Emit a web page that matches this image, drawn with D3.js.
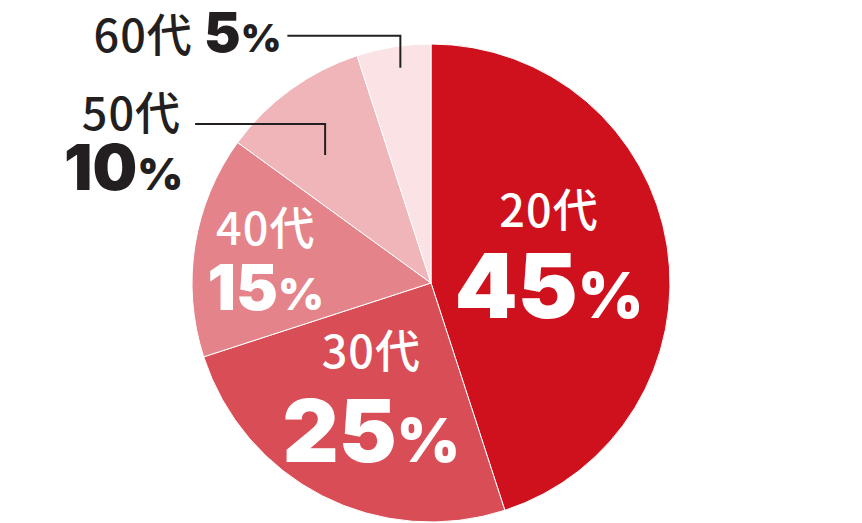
<!DOCTYPE html>
<html>
<head>
<meta charset="utf-8">
<script src="https://cdn.jsdelivr.net/npm/d3@7"></script>
<style>
  html, body { margin: 0; padding: 0; background: #fff; }
  .cat { font-family: "Noto Sans CJK JP", "Noto Sans", sans-serif; font-weight: 500; letter-spacing: 1px; }
  .num { font-family: Inter, Roboto, "Liberation Sans", sans-serif; font-weight: 900; }
</style>
</head>
<body>
<div id="pie_container"></div>
<script>
/* DATA */
const categories = ['20代', '30代', '40代', '50代', '60代'];
const shares = [45, 25, 15, 10, 5];

/* CONSTANTS AND GLOBALS */
const width = 862;
const height = 523;
const cx = 431;
const cy = 283;
const radius = 239;
const colors = ['#cf111e', '#d94d57', '#e4838a', '#f0b5b9', '#fbe3e5'];
const ink = '#231f20';
const catSize = 45;

const data = categories.map((c, i) => ({ cat: c, share: shares[i] }));

const svg = d3.select('#pie_container')
  .append('svg')
  .attr('width', width)
  .attr('height', height);

const g = svg.append('g')
  .attr('transform', `translate(${cx}, ${cy})`);

const pie = d3.pie()
  .sort(null)
  .value(d => d.share);

const arc = d3.arc()
  .outerRadius(radius)
  .innerRadius(0);

const arcs = pie(data);

g.selectAll('.slice')
  .data(arcs)
  .enter()
  .append('path')
  .attr('class', 'slice')
  .attr('d', arc)
  .attr('fill', (d, i) => colors[i])
  .attr('stroke', '#fff')
  .attr('stroke-width', 1);

// point on a slice: t = fraction along the slice angle, r = fraction of radius
const polar = (d, t, r) => {
  const a = d.startAngle + (d.endAngle - d.startAngle) * t;
  return [Math.sin(a) * r * radius, -Math.cos(a) * r * radius];
};

// writes "45%" with a smaller percent sign
function pctText(sel, value, size) {
  sel.append('tspan').attr('class', 'num').style('font-size', size + 'px').text(value);
  sel.append('tspan').attr('class', 'num').style('font-size', Math.round(size * 0.7) + 'px').text('%');
}

// labels inside the slice (20代, 30代, 40代)
const inside = [
  { t: 0.5, r: 0.5, catDy: -37, pctDy: 54, size: 90 },
  { t: 0.5, r: 0.55, catDy: -32, pctDy: 62, size: 87 },
  { t: 0.5, r: 0.7, catDy: -12, pctDy: 53, size: 63 }
];

inside.forEach((o, i) => {
  const d = arcs[i];
  const [x, y] = polar(d, o.t, o.r);
  g.append('text')
    .attr('class', 'cat')
    .attr('x', x)
    .attr('y', y + o.catDy)
    .attr('text-anchor', 'middle')
    .attr('fill', '#fff')
    .style('font-size', catSize + 'px')
    .text(d.data.cat);
  const p = g.append('text')
    .attr('x', x)
    .attr('y', y + o.pctDy)
    .attr('text-anchor', 'middle')
    .attr('fill', '#fff');
  pctText(p, d.data.share, o.size);
});

// labels outside with leader lines (50代, 60代)
const outside = [
  { i: 3, t: 0.4, r: 0.695, rise: 31, len: 130 },
  { i: 4, t: 0.55, r: 0.91, rise: 32, len: 113 }
];

outside.forEach(o => {
  const d = arcs[o.i];
  const [x, y] = polar(d, o.t, o.r);
  const ly = y - o.rise;
  const lx = x - o.len;
  g.append('path')
    .attr('d', d3.line()([[lx, ly], [x, ly], [x, y]]))
    .attr('fill', 'none')
    .attr('stroke', ink)
    .attr('stroke-width', 2);

  if (o.i === 3) {
    g.append('text')
      .attr('class', 'cat')
      .attr('x', lx - 14)
      .attr('y', ly + 6)
      .attr('text-anchor', 'end')
      .attr('fill', ink)
      .style('font-size', catSize + 'px')
      .text(d.data.cat);
    const p = g.append('text')
      .attr('x', lx - 12)
      .attr('y', ly + 66)
      .attr('text-anchor', 'end')
      .attr('fill', ink);
    pctText(p, d.data.share, 63);
  } else {
    const t = g.append('text')
      .attr('x', lx - 6)
      .attr('y', ly + 16)
      .attr('text-anchor', 'end')
      .attr('fill', ink);
    t.append('tspan').attr('class', 'cat').style('font-size', catSize + 'px').text(d.data.cat + ' ');
    pctText(t, d.data.share, 55);
  }
});
</script>
</body>
</html>
